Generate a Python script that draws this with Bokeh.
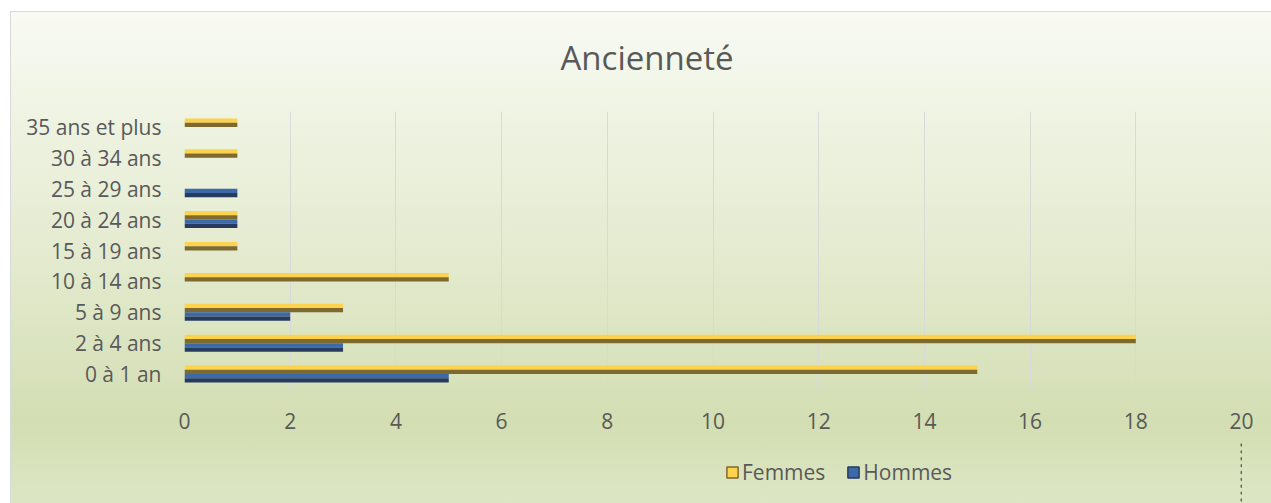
from bokeh.plotting import figure
from bokeh.layouts import column
from bokeh.models import (Range1d, FactorRange, FixedTicker, Legend, LegendItem,
                          ColumnDataSource)
from bokeh.transform import dodge
from bokeh.embed import file_html
from bokeh.resources import INLINE

# ---- data ----
categories = ["0 à 1 an", "2 à 4 ans", "5 à 9 ans", "10 à 14 ans", "15 à 19 ans",
              "20 à 24 ans", "25 à 29 ans", "30 à 34 ans", "35 ans et plus"]
femmes = [15, 18, 3, 5, 1, 1, 0, 1, 1]
hommes = [5, 3, 2, 0, 0, 1, 1, 0, 0]
series_names = ["Femmes", "Hommes"]
x_ticks = [0, 2, 4, 6, 8, 10, 12, 14, 16, 18, 20]
title_text = "Ancienneté"

# ---- styles ----
FONT = "Open Sans"
TXT = "#595959"
Y_LIGHT, Y_DARK = "#fdd24c", "#7e692f"
B_LIGHT, B_DARK = "#3d69a6", "#273b5f"
BAR_H = 0.275
HALF = BAR_H / 2
MAIN_H = 441
LEG_H = 62

src = ColumnDataSource(dict(cat=categories, femmes=femmes, hommes=hommes))

# ---------------- main chart ----------------
p = figure(width=1271, height=MAIN_H, frame_width=1057, frame_height=278,
           output_backend="svg", toolbar_location=None,
           y_range=FactorRange(factors=categories), x_range=Range1d(0, 20),
           min_border_left=184, min_border_right=30, min_border_top=111,
           min_border_bottom=52, title=title_text)

p.background_fill_color = None
p.border_fill_color = None
p.outline_line_color = None
p.styles = {
    "background": ("linear-gradient(to bottom, #f8faf3 0px, #f8faf3 15px, #eef3e1 126px, "
                   "#e4ebd0 252px, #d3deb3 422px, #d5e0b7 441px, #d5e0b7 100%)"),
    "box-shadow": "inset 10px 11px 0 0 #ffffff, inset 11px 12px 0 0 #d9d9d9",
}

p.title.text_font = FONT
p.title.text_font_size = "33px"
p.title.text_font_style = "normal"
p.title.text_color = TXT
p.title.align = "left"
p.title.offset = 376
p.title.standoff = 64

rF_light = p.hbar(y=dodge("cat", HALF + HALF / 2, range=p.y_range), left=0, right="femmes",
                  height=HALF, source=src, fill_color=Y_LIGHT, line_color=None)
rF_dark = p.hbar(y=dodge("cat", HALF / 2, range=p.y_range), left=0, right="femmes",
                 height=HALF, source=src, fill_color=Y_DARK, line_color=None)
rH_light = p.hbar(y=dodge("cat", -HALF / 2, range=p.y_range), left=0, right="hommes",
                  height=HALF, source=src, fill_color=B_LIGHT, line_color=None)
rH_dark = p.hbar(y=dodge("cat", -HALF - HALF / 2, range=p.y_range), left=0, right="hommes",
                 height=HALF, source=src, fill_color=B_DARK, line_color=None)

p.xaxis.ticker = FixedTicker(ticks=x_ticks)
for ax in (p.xaxis, p.yaxis):
    ax.axis_line_color = None
    ax.major_tick_line_color = None
    ax.minor_tick_line_color = None
    ax.major_tick_out = 0
    ax.major_tick_in = 0
    ax.minor_tick_out = 0
    ax.major_label_text_font = FONT
    ax.major_label_text_font_size = "21px"
    ax.major_label_text_color = TXT
p.xaxis.major_label_standoff = 23
p.yaxis.major_label_standoff = 23

p.xgrid.grid_line_color = "#d9d9d9"
p.xgrid.grid_line_width = 1
p.ygrid.grid_line_color = None

# ---------------- legend strip ----------------
# same series drawn on an x-range that keeps the bars out of view; only the legend shows
pl = figure(width=1271, height=LEG_H, output_backend="svg", toolbar_location=None,
            x_range=Range1d(-2, -1), y_range=FactorRange(factors=categories),
            x_axis_type=None, y_axis_type=None,
            min_border_left=0, min_border_right=0, min_border_top=0, min_border_bottom=0)
pl.background_fill_color = None
pl.border_fill_color = None
pl.outline_line_color = None
pl.xgrid.visible = False
pl.ygrid.visible = False
pl.styles = {
    "background": "linear-gradient(to bottom, #d5e0b7 0px, #dde6c4 62px)",
    "box-shadow": "inset 10px 0 0 0 #ffffff, inset 11px 0 0 0 #d9d9d9",
}

lF = pl.hbar(y="cat", left=0, right="femmes", height=BAR_H, source=src,
             fill_color=Y_LIGHT, line_color=Y_DARK, line_width=1.5)
lH = pl.hbar(y="cat", left=0, right="hommes", height=BAR_H, source=src,
             fill_color=B_LIGHT, line_color=B_DARK, line_width=1.5)

legend = Legend(items=[LegendItem(label=series_names[0], renderers=[lF]),
                       LegendItem(label=series_names[1], renderers=[lH])],
                orientation="horizontal", location=(541, 17),
                glyph_width=14, glyph_height=14, label_standoff=3, spacing=21,
                padding=0, margin=0, border_line_color=None,
                background_fill_color=None, background_fill_alpha=0,
                label_text_font=FONT, label_text_font_size="21px",
                label_text_color=TXT)
pl.add_layout(legend)

layout = column(p, pl, spacing=0)

open("out.html", "w").write(file_html(layout, INLINE))
